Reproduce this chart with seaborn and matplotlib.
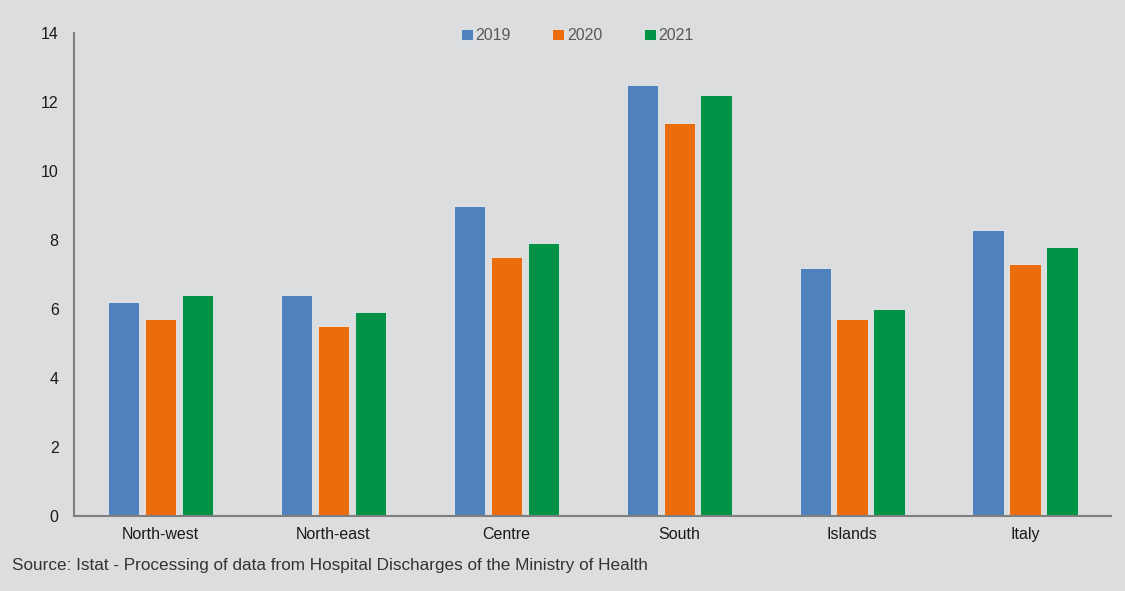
import pandas as pd
import matplotlib.pyplot as plt
import seaborn as sns

regions = ['North-west', 'North-east', 'Centre', 'South', 'Islands', 'Italy']
years = ['2019', '2020', '2021']
v2019 = [6.2, 6.4, 9.0, 12.5, 7.2, 8.3]
v2020 = [5.7, 5.5, 7.5, 11.4, 5.7, 7.3]
v2021 = [6.4, 5.9, 7.9, 12.2, 6.0, 7.8]

df = pd.DataFrame({'Region': regions * 3,
                   'Year': [y for y in years for _ in regions],
                   'Value': v2019 + v2020 + v2021})

bg = '#dcdddf'
colors = ['#4f81bd', '#ea6c0a', '#009245']

sns.set_style('white')
plt.rcParams['font.family'] = ['Liberation Sans', 'DejaVu Sans']

fig = plt.figure(figsize=(11.25, 5.91), dpi=100, facecolor=bg)
ax = fig.add_axes([0.0658, 0.127, 0.9222, 0.817])
ax.set_facecolor(bg)

sns.barplot(data=df, x='Region', y='Value', hue='Year', palette=colors,
            width=0.64, gap=0.15, saturation=1, edgecolor='#e8eaee', linewidth=0.6, ax=ax)

ax.set_ylim(0, 14)
ax.set_xlim(-0.5, 5.5)
ax.set_yticks(range(0, 15, 2))
ax.set_xlabel('')
ax.set_ylabel('')
ax.tick_params(axis='both', length=0, labelsize=11.5, colors='#1a1a1a')
ax.tick_params(axis='x', pad=8)
ax.tick_params(axis='y', pad=11)
for s in ['top', 'right']:
    ax.spines[s].set_visible(False)
for s in ['left', 'bottom']:
    ax.spines[s].set_color('#7f7f7f')
    ax.spines[s].set_linewidth(1.5)

leg = ax.legend(loc='upper center', bbox_to_anchor=(0.485, 1.04), ncol=3, frameon=False,
                fontsize=11.5, handlelength=0.75, handleheight=0.75, handletextpad=0.15,
                columnspacing=2.6)
for t in leg.get_texts():
    t.set_color('#595959')

fig.text(0.011, 0.035, 'Source: Istat - Processing of data from Hospital Discharges of the Ministry of Health',
         fontsize=12.3, color='#333333', family=['Liberation Sans', 'DejaVu Sans'])

fig.savefig('out.png', dpi=100, facecolor=bg)
